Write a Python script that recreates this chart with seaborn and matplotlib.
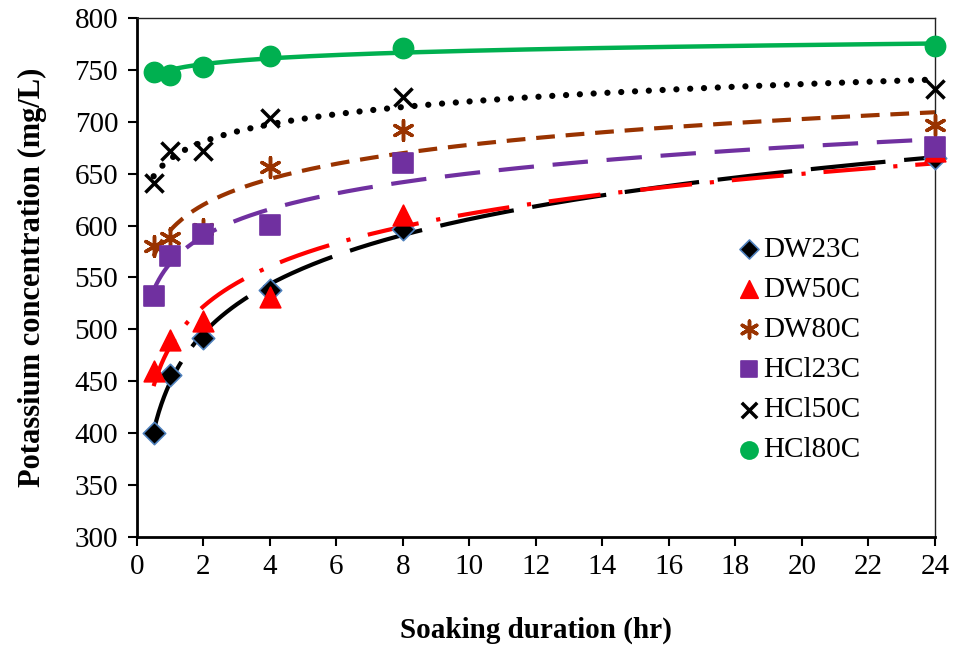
import numpy as np
import pandas as pd
import matplotlib
matplotlib.use("Agg")
import matplotlib.pyplot as plt
import seaborn as sns

hours = [0.5, 1, 2, 4, 8, 24]
series_names = ["DW23C", "DW50C", "DW80C", "HCl23C", "HCl50C", "HCl80C"]
dw23c = [400, 456, 492, 538, 597, 665]
dw50c = [460, 490, 508, 531, 610, 672]
dw80c = [580, 588, 597, 656, 692, 697]
hcl23c = [532, 571, 592, 601, 660, 676]
hcl50c = [641, 672, 672, 704, 724, 732]
hcl80c = [748, 745, 753, 763, 771, 773]
values = [dw23c, dw50c, dw80c, hcl23c, hcl50c, hcl80c]

x_ticks = list(range(0, 25, 2))
y_ticks = list(range(300, 801, 50))

sns.set_theme(style="white")
plt.rcParams["font.family"] = ["Liberation Serif", "DejaVu Serif"]
plt.rcParams["text.color"] = "black"
plt.rcParams["axes.labelcolor"] = "black"

fig = plt.figure(figsize=(9.56, 6.51), dpi=100)
ax = fig.add_axes([0.1433, 0.1751, 0.978 - 0.1433, 0.9724 - 0.1751])

styles = {
    "DW23C": dict(marker="D", color="black", edge="#4f81bd", s=130, lc="black",
                  dash=(18, 4.5), cap="butt", lw=3.0),
    "DW50C": dict(marker="^", color="red", edge="red", s=220, lc="red",
                  dash=(12.5, 4.3, 1, 4.3), cap="butt", lw=3.0),
    "DW80C": dict(marker=(6, 2, 0), color="#993300", edge="#993300", s=200, lc="#993300",
                  dash=(4.5, 2.6), cap="butt", lw=3.0),
    "HCl23C": dict(marker="s", color="#7030a0", edge="#7030a0", s=200, lc="#7030a0",
                   dash=(8.5, 4.5), cap="butt", lw=3.0),
    "HCl50C": dict(marker="x", color="black", edge="black", s=170, lc="black",
                   dash=(0.01, 2.2), cap="round", lw=4.5),
    "HCl80C": dict(marker="o", color="#00b050", edge="#00b050", s=210, lc="#00b050",
                   dash=None, cap="butt", lw=3.2),
}

xfit = np.linspace(min(hours), max(hours), 300)
for name, vals in zip(series_names, values):
    st = styles[name]
    coef = np.polyfit(np.log(hours), vals, 1)
    yfit = coef[0] * np.log(xfit) + coef[1]
    df_fit = pd.DataFrame({"x": xfit, "y": yfit})
    sns.lineplot(data=df_fit, x="x", y="y", ax=ax, color=st["lc"], lw=st["lw"],
                 label="_nolegend_", zorder=2)
    ln = ax.lines[-1]
    if st["dash"] is not None:
        ln.set_dashes(st["dash"])
    ln.set_dash_capstyle(st["cap"])
    ln.set_solid_capstyle("butt")

for name, vals in zip(series_names, values):
    st = styles[name]
    df = pd.DataFrame({"x": hours, "y": vals})
    lw_m = 2.5 if name in ("DW80C", "HCl50C") else 1.2
    sns.scatterplot(data=df, x="x", y="y", ax=ax, marker=st["marker"], s=st["s"],
                    color=st["color"], edgecolor=st["edge"], linewidth=lw_m,
                    label=name, zorder=3, clip_on=False)

ax.set_xlim(0, 24)
ax.set_ylim(300, 800)
ax.set_xticks(x_ticks)
ax.set_yticks(y_ticks)
ax.tick_params(axis="both", labelsize=21, direction="out", length=6.5, width=1.5,
               colors="black", left=True, bottom=True)
ax.tick_params(axis="y", pad=7)
ax.tick_params(axis="x", pad=6)
ax.set_xlabel("Soaking duration (hr)", fontsize=21, fontweight="bold", labelpad=26)
ax.set_ylabel("Potassium concentration (mg/L)", fontsize=22, fontweight="bold", labelpad=20)
ax.grid(False)
for side in ("left", "bottom"):
    ax.spines[side].set_linewidth(2.0)
    ax.spines[side].set_color("black")
for side in ("top", "right"):
    ax.spines[side].set_linewidth(1.0)
    ax.spines[side].set_color("#222222")

handles, labels = ax.get_legend_handles_labels()
leg = ax.legend(handles, labels, loc="upper left", bbox_to_anchor=(0.756, 0.655),
                bbox_transform=fig.transFigure, frameon=False, fontsize=21,
                handletextpad=0.0, labelspacing=0.47, borderaxespad=0,
                handlelength=1.0, markerscale=0.85)

fig.savefig("out.png", dpi=100)
